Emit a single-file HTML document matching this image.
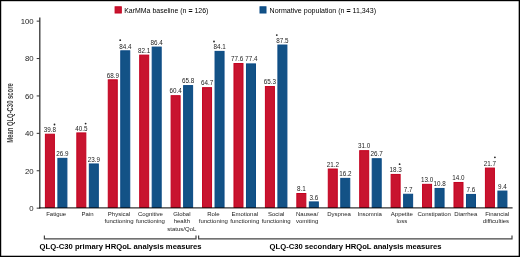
<!DOCTYPE html><html><head><meta charset="utf-8"><style>html,body{margin:0;padding:0;background:#fff}svg{display:block;will-change:transform}text{font-family:"Liberation Sans",sans-serif}</style></head><body>
<svg width="520" height="257" viewBox="0 0 520 257">
<rect x="0" y="0" width="520" height="257" fill="#fff"/>
<rect x="45.40" y="134.22" width="9.00" height="73.18" fill="#c8142f" stroke="#c4001f" stroke-width="1"/>
<text x="49.90" y="131.92" font-size="6.3" fill="#222" text-anchor="middle">39.8</text>
<rect x="57.90" y="158.35" width="9.00" height="49.05" fill="#135286" stroke="#0a4a85" stroke-width="1"/>
<text x="62.40" y="156.05" font-size="6.3" fill="#222" text-anchor="middle">26.9</text>
<circle cx="54.5" cy="124.5" r="0.9" fill="#222"/>
<text x="56.15" y="215.90" font-size="6.0" fill="#222" text-anchor="middle">Fatigue</text>
<rect x="76.83" y="132.92" width="9.00" height="74.48" fill="#c8142f" stroke="#c4001f" stroke-width="1"/>
<text x="81.33" y="130.62" font-size="6.3" fill="#222" text-anchor="middle">40.5</text>
<rect x="89.33" y="163.96" width="9.00" height="43.44" fill="#135286" stroke="#0a4a85" stroke-width="1"/>
<text x="93.83" y="161.66" font-size="6.3" fill="#222" text-anchor="middle">23.9</text>
<circle cx="85.6" cy="123.6" r="0.9" fill="#222"/>
<text x="87.58" y="215.90" font-size="6.0" fill="#222" text-anchor="middle">Pain</text>
<rect x="108.26" y="79.81" width="9.00" height="127.59" fill="#c8142f" stroke="#c4001f" stroke-width="1"/>
<text x="112.76" y="77.51" font-size="6.3" fill="#222" text-anchor="middle">68.9</text>
<rect x="120.76" y="50.82" width="9.00" height="156.58" fill="#135286" stroke="#0a4a85" stroke-width="1"/>
<text x="125.26" y="48.52" font-size="6.3" fill="#222" text-anchor="middle">84.4</text>
<circle cx="120.2" cy="40.2" r="0.9" fill="#222"/>
<text x="119.01" y="215.90" font-size="6.0" fill="#222" text-anchor="middle">Physical</text>
<text x="119.01" y="223.20" font-size="6.0" fill="#222" text-anchor="middle">functioning</text>
<rect x="139.69" y="55.12" width="9.00" height="152.28" fill="#c8142f" stroke="#c4001f" stroke-width="1"/>
<text x="144.19" y="52.82" font-size="6.3" fill="#222" text-anchor="middle">82.1</text>
<rect x="152.19" y="47.08" width="9.00" height="160.32" fill="#135286" stroke="#0a4a85" stroke-width="1"/>
<text x="156.69" y="44.78" font-size="6.3" fill="#222" text-anchor="middle">86.4</text>
<text x="150.44" y="215.90" font-size="6.0" fill="#222" text-anchor="middle">Cognitive</text>
<text x="150.44" y="223.20" font-size="6.0" fill="#222" text-anchor="middle">functioning</text>
<rect x="171.12" y="95.70" width="9.00" height="111.70" fill="#c8142f" stroke="#c4001f" stroke-width="1"/>
<text x="175.62" y="93.40" font-size="6.3" fill="#222" text-anchor="middle">60.4</text>
<rect x="183.62" y="85.60" width="9.00" height="121.80" fill="#135286" stroke="#0a4a85" stroke-width="1"/>
<text x="188.12" y="83.30" font-size="6.3" fill="#222" text-anchor="middle">65.8</text>
<text x="181.87" y="215.90" font-size="6.0" fill="#222" text-anchor="middle">Global</text>
<text x="181.87" y="223.20" font-size="6.0" fill="#222" text-anchor="middle">health</text>
<text x="181.87" y="230.50" font-size="6.0" fill="#222" text-anchor="middle">status/QoL</text>
<rect x="202.55" y="87.66" width="9.00" height="119.74" fill="#c8142f" stroke="#c4001f" stroke-width="1"/>
<text x="207.05" y="85.36" font-size="6.3" fill="#222" text-anchor="middle">64.7</text>
<rect x="215.05" y="51.38" width="9.00" height="156.02" fill="#135286" stroke="#0a4a85" stroke-width="1"/>
<text x="219.55" y="49.08" font-size="6.3" fill="#222" text-anchor="middle">84.1</text>
<circle cx="214.0" cy="41.5" r="0.9" fill="#222"/>
<text x="213.30" y="215.90" font-size="6.0" fill="#222" text-anchor="middle">Role</text>
<text x="213.30" y="223.20" font-size="6.0" fill="#222" text-anchor="middle">functioning</text>
<rect x="233.98" y="63.54" width="9.00" height="143.86" fill="#c8142f" stroke="#c4001f" stroke-width="1"/>
<text x="237.18" y="60.54" font-size="6.3" fill="#222" text-anchor="middle">77.6</text>
<rect x="246.48" y="63.91" width="9.00" height="143.49" fill="#135286" stroke="#0a4a85" stroke-width="1"/>
<text x="251.48" y="60.91" font-size="6.3" fill="#222" text-anchor="middle">77.4</text>
<text x="244.73" y="215.90" font-size="6.0" fill="#222" text-anchor="middle">Emotional</text>
<text x="244.73" y="223.20" font-size="6.0" fill="#222" text-anchor="middle">functioning</text>
<rect x="265.41" y="86.54" width="9.00" height="120.86" fill="#c8142f" stroke="#c4001f" stroke-width="1"/>
<text x="269.91" y="84.24" font-size="6.3" fill="#222" text-anchor="middle">65.3</text>
<rect x="277.91" y="45.03" width="9.00" height="162.38" fill="#135286" stroke="#0a4a85" stroke-width="1"/>
<text x="282.41" y="42.73" font-size="6.3" fill="#222" text-anchor="middle">87.5</text>
<circle cx="276.8" cy="35.1" r="0.9" fill="#222"/>
<text x="276.16" y="215.90" font-size="6.0" fill="#222" text-anchor="middle">Social</text>
<text x="276.16" y="223.20" font-size="6.0" fill="#222" text-anchor="middle">functioning</text>
<rect x="296.84" y="193.50" width="9.00" height="13.90" fill="#c8142f" stroke="#c4001f" stroke-width="1"/>
<text x="301.34" y="191.20" font-size="6.3" fill="#222" text-anchor="middle">8.1</text>
<rect x="309.34" y="201.92" width="9.00" height="5.48" fill="#135286" stroke="#0a4a85" stroke-width="1"/>
<text x="313.84" y="199.62" font-size="6.3" fill="#222" text-anchor="middle">3.6</text>
<text x="307.19" y="215.90" font-size="6.0" fill="#222" text-anchor="middle">Nausea/</text>
<text x="307.09" y="223.20" font-size="6.0" fill="#222" text-anchor="middle">vomiting</text>
<rect x="328.27" y="169.01" width="9.00" height="38.39" fill="#c8142f" stroke="#c4001f" stroke-width="1"/>
<text x="332.77" y="166.71" font-size="6.3" fill="#222" text-anchor="middle">21.2</text>
<rect x="340.77" y="178.36" width="9.00" height="29.04" fill="#135286" stroke="#0a4a85" stroke-width="1"/>
<text x="345.27" y="176.06" font-size="6.3" fill="#222" text-anchor="middle">16.2</text>
<text x="339.02" y="215.90" font-size="6.0" fill="#222" text-anchor="middle">Dyspnea</text>
<rect x="359.70" y="150.68" width="9.00" height="56.72" fill="#c8142f" stroke="#c4001f" stroke-width="1"/>
<text x="364.20" y="148.38" font-size="6.3" fill="#222" text-anchor="middle">31.0</text>
<rect x="372.20" y="158.72" width="9.00" height="48.68" fill="#135286" stroke="#0a4a85" stroke-width="1"/>
<text x="376.70" y="156.42" font-size="6.3" fill="#222" text-anchor="middle">26.7</text>
<text x="369.65" y="215.90" font-size="6.0" fill="#222" text-anchor="middle">Insomnia</text>
<rect x="391.13" y="174.43" width="9.00" height="32.97" fill="#c8142f" stroke="#c4001f" stroke-width="1"/>
<text x="395.63" y="172.13" font-size="6.3" fill="#222" text-anchor="middle">18.3</text>
<rect x="403.63" y="194.25" width="9.00" height="13.15" fill="#135286" stroke="#0a4a85" stroke-width="1"/>
<text x="408.13" y="191.95" font-size="6.3" fill="#222" text-anchor="middle">7.7</text>
<circle cx="399.6" cy="164.2" r="0.9" fill="#222"/>
<text x="401.88" y="215.90" font-size="6.0" fill="#222" text-anchor="middle">Appetite</text>
<text x="401.88" y="223.20" font-size="6.0" fill="#222" text-anchor="middle">loss</text>
<rect x="422.56" y="184.34" width="9.00" height="23.06" fill="#c8142f" stroke="#c4001f" stroke-width="1"/>
<text x="427.06" y="182.04" font-size="6.3" fill="#222" text-anchor="middle">13.0</text>
<rect x="435.06" y="188.45" width="9.00" height="18.95" fill="#135286" stroke="#0a4a85" stroke-width="1"/>
<text x="439.56" y="186.15" font-size="6.3" fill="#222" text-anchor="middle">10.8</text>
<text x="434.21" y="215.90" font-size="6.0" fill="#222" text-anchor="middle">Constipation</text>
<rect x="453.99" y="182.47" width="9.00" height="24.93" fill="#c8142f" stroke="#c4001f" stroke-width="1"/>
<text x="458.49" y="180.17" font-size="6.3" fill="#222" text-anchor="middle">14.0</text>
<rect x="466.49" y="194.44" width="9.00" height="12.96" fill="#135286" stroke="#0a4a85" stroke-width="1"/>
<text x="470.99" y="192.14" font-size="6.3" fill="#222" text-anchor="middle">7.6</text>
<text x="465.74" y="215.90" font-size="6.0" fill="#222" text-anchor="middle">Diarrhea</text>
<rect x="485.42" y="168.07" width="9.00" height="39.33" fill="#c8142f" stroke="#c4001f" stroke-width="1"/>
<text x="489.92" y="165.77" font-size="6.3" fill="#222" text-anchor="middle">21.7</text>
<rect x="497.92" y="191.07" width="9.00" height="16.33" fill="#135286" stroke="#0a4a85" stroke-width="1"/>
<text x="502.42" y="188.77" font-size="6.3" fill="#222" text-anchor="middle">9.4</text>
<circle cx="494.9" cy="157.3" r="0.9" fill="#222"/>
<text x="497.27" y="215.90" font-size="6.0" fill="#222" text-anchor="middle">Financial</text>
<text x="495.97" y="223.20" font-size="6.0" fill="#222" text-anchor="middle">difficulties</text>
<line x1="39.8" y1="17.6" x2="39.8" y2="208.6" stroke="#333" stroke-width="1.3"/>
<line x1="39.2" y1="207.85" x2="512.6" y2="207.85" stroke="#333" stroke-width="1.2" style="mix-blend-mode:multiply"/>
<line x1="36.7" y1="208.15" x2="39.8" y2="208.15" stroke="#333" stroke-width="1"/>
<text x="33.7" y="210.94" font-size="7.8" fill="#222" text-anchor="end">0</text>
<line x1="36.7" y1="170.75" x2="39.8" y2="170.75" stroke="#333" stroke-width="1"/>
<text x="33.7" y="173.54" font-size="7.8" fill="#222" text-anchor="end">20</text>
<line x1="36.7" y1="133.35" x2="39.8" y2="133.35" stroke="#333" stroke-width="1"/>
<text x="33.7" y="136.14" font-size="7.8" fill="#222" text-anchor="end">40</text>
<line x1="36.7" y1="95.95" x2="39.8" y2="95.95" stroke="#333" stroke-width="1"/>
<text x="33.7" y="98.74" font-size="7.8" fill="#222" text-anchor="end">60</text>
<line x1="36.7" y1="58.55" x2="39.8" y2="58.55" stroke="#333" stroke-width="1"/>
<text x="33.7" y="61.34" font-size="7.8" fill="#222" text-anchor="end">80</text>
<line x1="36.7" y1="21.15" x2="39.8" y2="21.15" stroke="#333" stroke-width="1"/>
<text x="33.7" y="23.94" font-size="7.8" fill="#222" text-anchor="end">100</text>
<text transform="translate(13.4,113.0) rotate(-90)" font-size="8.8" font-weight="bold" fill="#3a3a3a" text-anchor="middle" textLength="59.5" lengthAdjust="spacingAndGlyphs">Mean QLQ-C30 score</text>
<rect x="115.1" y="6.8" width="6.2" height="6.2" fill="#c8142f" stroke="#c4001f" stroke-width="1"/>
<text x="124.2" y="12.6" font-size="7.5" fill="#000" textLength="84.2" lengthAdjust="spacingAndGlyphs">KarMMa baseline (n <tspan font-weight="bold">=</tspan> 126)</text>
<rect x="260.0" y="6.8" width="6.0" height="6.2" fill="#135286" stroke="#0a4a85" stroke-width="1"/>
<text x="269.6" y="12.6" font-size="7.5" fill="#000" textLength="106.4" lengthAdjust="spacingAndGlyphs">Normative population (n <tspan font-weight="bold">=</tspan> 11,343)</text>
<path d="M44.4,235.4 V238.8 H196.0 V235.4" fill="none" stroke="#444" stroke-width="1.2"/>
<path d="M198.6,235.4 V238.8 H512.0 V235.4" fill="none" stroke="#444" stroke-width="1.2"/>
<text x="39.6" y="248.5" font-size="7.6" font-weight="bold" fill="#000" textLength="162.0" lengthAdjust="spacingAndGlyphs">QLQ-C30 primary HRQoL analysis measures</text>
<text x="269.6" y="248.5" font-size="7.6" font-weight="bold" fill="#000" textLength="171.8" lengthAdjust="spacingAndGlyphs">QLQ-C30 secondary HRQoL analysis measures</text>
<rect x="1" y="1" width="518" height="1" fill="#000" fill-opacity="0.2"/>
<rect x="1" y="1" width="1" height="255" fill="#000" fill-opacity="0.22"/>
<rect x="518" y="1" width="1" height="255" fill="#000" fill-opacity="0.33"/>
<rect x="1" y="255" width="518" height="1" fill="#000" fill-opacity="0.28"/>
<rect x="0" y="0" width="520" height="257" fill="none" stroke="#000" stroke-width="2"/>
</svg></body></html>
